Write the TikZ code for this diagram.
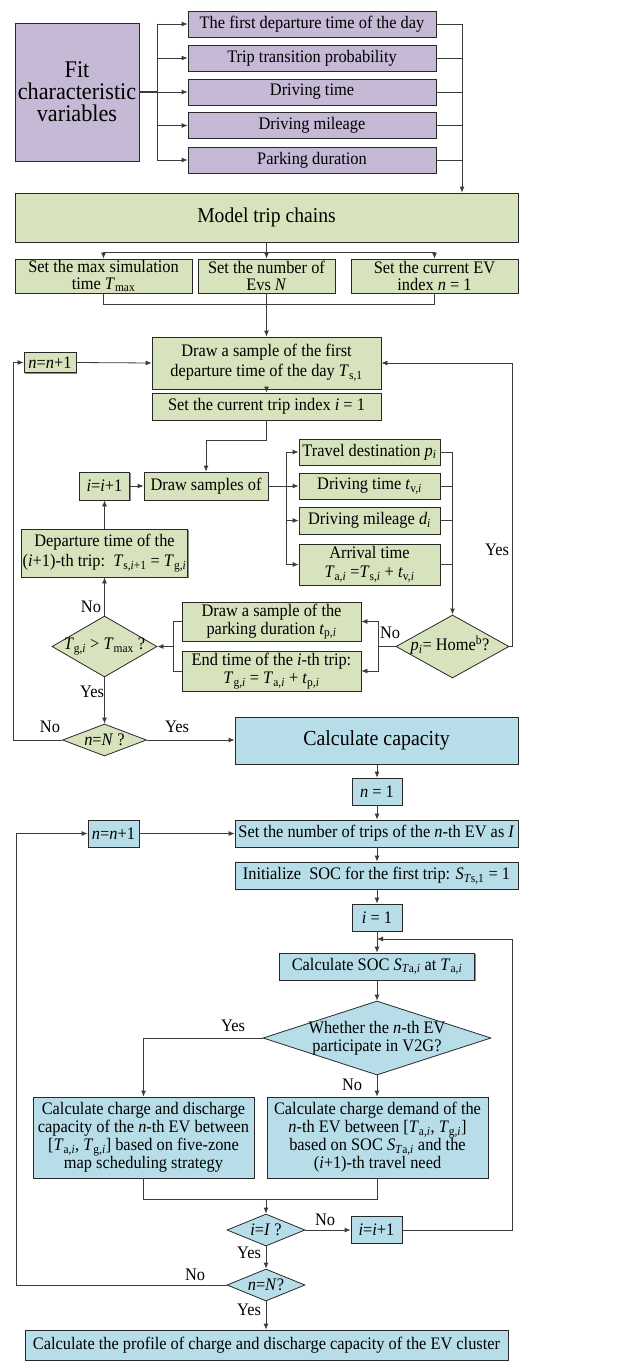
\documentclass[tikz,border=0pt]{standalone}
\usepackage{fontspec}
\setmainfont[FakeStretch=0.93]{Liberation Serif}
\usetikzlibrary{arrows.meta,shapes.geometric,shadows}
\definecolor{purp}{RGB}{197,185,214}
\definecolor{grn}{RGB}{215,227,188}
\definecolor{blu}{RGB}{183,222,232}
\definecolor{edge}{RGB}{40,40,40}
\definecolor{wire}{RGB}{60,60,60}
\newcommand\fs{\fontsize{17.6}{18}\selectfont}
\newcommand\V[2]{\textit{#1}\textsubscript{#2}}
\newcommand\I[1]{\textit{#1}}
\tikzset{
  x=1pt,y=-1pt,
  bx/.style={draw=edge,line width=0.8pt,rectangle,inner sep=0pt,align=center,font=\fs,
    drop shadow={shadow xshift=1pt,shadow yshift=-1pt,fill=black!45,opacity=1}},
  pbox/.style={bx,fill=purp},
  gbox/.style={bx,fill=grn},
  bbox/.style={bx,fill=blu},
  dia/.style={draw=edge,line width=0.8pt,diamond,inner sep=0pt},
  txt/.style={inner sep=0pt,align=center,font=\fs},
  wire/.style={draw=wire,line width=0.8pt},
  arr/.style={wire,-{Latex[length=6pt,width=5pt]}},
}
\begin{document}
\begin{tikzpicture}
\useasboundingbox (0,0) rectangle (617,1362);
% ---------- purple part
\node[pbox,minimum width=124,minimum height=138,font=\fontsize{23.9}{22}\selectfont] (fit) at (77,92) {Fit\\characteristic\\variables};
\node[pbox,minimum width=248,minimum height=26] (p1) at (312,24) {The first departure time of the day};
\node[pbox,minimum width=248,minimum height=26] (p2) at (312,58) {Trip transition probability};
\node[pbox,minimum width=248,minimum height=26] (p3) at (312,92) {Driving time};
\node[pbox,minimum width=248,minimum height=26] (p4) at (312,125.5) {Driving mileage};
\node[pbox,minimum width=248,minimum height=26] (p5) at (312,160) {Parking duration};
\coordinate (lbus) at (157,92);
\coordinate (rbus) at (462,24);
\draw[wire,line width=1.3pt] (fit.east) -- (lbus);
\draw[wire] (lbus |- p1.west) -- (lbus |- p5.west);
\foreach \p in {p1,p2,p3,p4,p5}{\draw[arr] (lbus |- \p.west) -- (\p.west);}
\foreach \p in {p2,p3,p4,p5}{\draw[wire] (\p.east) -- (rbus |- \p.east);}
% ---------- green part
\node[gbox,minimum width=503,minimum height=49,font=\fontsize{21.1}{22}\selectfont] (model) at (266.5,217.5) {Model trip chains};
\draw[arr] (p1.east) -- (rbus) -- (rbus |- model.north);
\node[gbox,minimum width=177,minimum height=34,font=\fontsize{17.6}{17}\selectfont] (ba) at (103.5,276) {Set the max simulation\\time \V{T}{max}};
\node[gbox,minimum width=137,minimum height=34,font=\fontsize{17.6}{17}\selectfont] (bb) at (266.5,276) {Set the number of\\Evs \I{N}};
\node[gbox,minimum width=167,minimum height=34,font=\fontsize{17.6}{17}\selectfont] (bc) at (434.5,276) {Set the current EV\\index \I{n} = 1};
\coordinate (sp) at (266.5,252);
\coordinate (mg) at (266.5,304);
\draw[wire] (model.south) -- (sp);
\draw[wire] (ba.north |- sp) -- (bc.north |- sp);
\draw[arr] (ba.north |- sp) -- (ba.north);
\draw[arr] (sp) -- (bb.north);
\draw[arr] (bc.north |- sp) -- (bc.north);
\draw[wire] (ba.south) -- (ba.south |- mg) -- (bc.south |- mg) -- (bc.south);
\draw[wire] (bb.south) -- (mg);
\node[gbox,minimum width=229,minimum height=52,font=\fontsize{17.6}{20}\selectfont] (d1) at (266.5,363) {Draw a sample of the first\\departure time of the day \V{T}{s,1}};
\draw[arr] (mg) -- (d1.north);
\node[gbox,minimum width=52,minimum height=20] (nn1) at (50,362.5) {\I{n}=\I{n}+1};
\draw[arr] (nn1.east) -- (d1.west);
\node[gbox,minimum width=229,minimum height=27] (t1) at (266.5,406.5) {Set the current trip index \I{i} = 1};
\draw[arr] (d1.south) -- (t1.north);
\node[gbox,minimum width=124,minimum height=28] (ds) at (206,486) {Draw samples of};
\node[gbox,minimum width=50,minimum height=28] (ii1) at (104.5,486) {\I{i}=\I{i}+1};
\draw[arr] (t1.south) -- ++(0,20) -| (ds.north);
\draw[arr] (ii1.east) -- (ds.west);
\node[gbox,minimum width=141,minimum height=26] (td) at (369.5,452) {Travel destination \V{p}{\I{i}}};
\node[gbox,minimum width=141,minimum height=26] (dt) at (369.5,486) {Driving time \V{t}{v,\I{i}}};
\node[gbox,minimum width=141,minimum height=27] (dm) at (369.5,520.5) {Driving mileage \V{d}{\I{i}}};
\node[gbox,minimum width=141,minimum height=41,font=\fontsize{17.6}{19}\selectfont] (at) at (369.5,564.5) {Arrival time\\\V{T}{a,\I{i}} =\V{T}{s,\I{i}} + \V{t}{v,\I{i}}};
\coordinate (mbus) at (286,486);
\draw[wire] (ds.east) -- (mbus);
\draw[wire] (mbus |- td.west) -- (mbus |- at.west);
\foreach \p in {td,dt,dm,at}{\draw[arr] (mbus |- \p.west) -- (\p.west);}
% home diamond
\node[dia,fill=grn,minimum width=113,minimum height=63] (home) at (452.5,646.5) {};
\node[txt] (homet) at (450,645) {\V{p}{\I{i}}= Home\textsuperscript{b}?};
\coordinate (hbus) at (452.5,452);
\foreach \p in {td,dt,dm}{\draw[wire] (\p.east) -- (hbus |- \p.east);}
\draw[wire] (at.east) -- (hbus |- at.east);
\draw[arr,line width=1.2pt] (hbus) -- (home.north);
% parking boxes
\node[gbox,minimum width=179,minimum height=39] (dp) at (271.5,621.5) {Draw a sample of the\\parking duration \V{t}{p,\I{i}}};
\node[gbox,minimum width=179,minimum height=40] (et) at (271.5,671) {End time of the \I{i}-th trip:\\\V{T}{g,\I{i}} = \V{T}{a,\I{i}} + \V{t}{p,\I{i}}};
\coordinate (hl) at (378,646.5);
\draw[wire] (home.west) -- (hl);
\draw[arr] (hl) |- (dp.east);
\draw[arr] (hl) |- (et.east);
\node[txt] (no1) at (390,633) {No};
% Tg diamond
\node[dia,fill=grn,minimum width=105,minimum height=61] (tg) at (104.5,646.5) {};
\node[txt] (tgt) at (104.5,646.5) {\V{T}{g,\I{i}} > \V{T}{max} ?};
\coordinate (tl) at (173,646.5);
\draw[wire] (dp.west) -| (tl);
\draw[wire] (et.west) -| (tl);
\draw[arr] (tl) -- (tg.east);
\node[gbox,minimum width=166,minimum height=48,font=\fontsize{17.6}{20}\selectfont] (dep) at (104.5,553) {Departure time of the\\(\I{i}+1)-th trip:\ \ \V{T}{s,\I{i}+1} = \V{T}{g,\I{i}}};
\draw[arr] (tg.north) -- (dep.north |- dep.south);
\draw[arr] (dep.north) -- (ii1.south);
\node[txt] (no2) at (91,607) {No};
% n=N diamond
\node[dia,fill=grn,minimum width=84,minimum height=32] (nN) at (104.5,740) {};
\node[txt] (nNt) at (104.5,740) {\I{n}=\I{N} ?};
\draw[arr] (tg.south) -- (nN.north);
\node[txt] (yes1) at (92,692) {Yes};
\coordinate (ll1) at (13,740);
\draw[arr] (nN.west) -- (ll1) |- (nn1.west);
\node[txt] (no3) at (50,727) {No};
\node[txt] (yes2) at (177,727) {Yes};
\coordinate (rl1) at (512,646.5);
\draw[arr] (home.east) -- (rl1) |- (d1.east);
\node[txt] (yes3) at (497,550) {Yes};
% ---------- blue part
\node[bbox,minimum width=283,minimum height=47,font=\fontsize{21.4}{22}\selectfont] (cap) at (376.5,740.5) {Calculate capacity};
\draw[arr] (nN.east) -- (cap.west |- nN.east);
\node[bbox,minimum width=50,minimum height=27] (n1) at (377,791.5) {\I{n} = 1};
\draw[arr] (cap.south -| n1.north) -- (n1.north);
\node[bbox,minimum width=283,minimum height=27] (st) at (376.5,833.5) {Set the number of trips of the \I{n}-th EV as \I{I}};
\draw[arr] (n1.south) -- (n1.south |- st.north);
\node[bbox,minimum width=51,minimum height=27] (nn2) at (113.5,833.5) {\I{n}=\I{n}+1};
\draw[arr] (nn2.east) -- (st.west);
\node[bbox,minimum width=283,minimum height=27] (init) at (376.5,875.5) {Initialize\ \ SOC for the first trip: \V{S}{\I{T}s,1} = 1};
\draw[arr] (n1.south |- st.south) -- (n1.south |- init.north);
\node[bbox,minimum width=50,minimum height=27] (i1) at (377,917.5) {\I{i} = 1};
\draw[arr] (i1.north |- init.south) -- (i1.north);
\node[bbox,minimum width=195,minimum height=27] (soc) at (377,966.5) {Calculate SOC \V{S}{\I{T}a,\I{i}} at \V{T}{a,\I{i}}};
\draw[arr] (i1.south) -- (soc.north);
\node[dia,fill=blu,minimum width=228,minimum height=74] (v2g) at (377,1038) {};
\node[txt] (v2gt) at (377,1038) {Whether the \I{n}-th EV\\participate in V2G?};
\draw[arr] (soc.south) -- (v2g.north);
\node[bbox,minimum width=221,minimum height=81] (lb) at (143.5,1137.5) {Calculate charge and discharge\\capacity of the \I{n}-th EV between\\{[}\V{T}{a,\I{i}}, \V{T}{g,\I{i}}] based on five-zone\\map scheduling strategy};
\node[bbox,minimum width=221,minimum height=81] (rb) at (377.5,1137.5) {Calculate charge demand of the\\\I{n}-th EV between [\V{T}{a,\I{i}}, \V{T}{g,\I{i}}]\\based on SOC \V{S}{\I{T}a,\I{i}} and the\\(\I{i}+1)-th travel need};
\draw[arr] (v2g.west) -| (lb.north);
\draw[arr] (v2g.south) -- (v2g.south |- rb.north);
\node[txt] (yes4) at (233,1026) {Yes};
\node[txt] (no4) at (352,1085) {No};
\coordinate (mg2) at (266,1199);
\draw[wire] (lb.south) -- (lb.south |- mg2) -- (v2g.south |- mg2) -- (v2g.south |- rb.south);
\node[dia,fill=blu,minimum width=78,minimum height=32] (iI) at (266,1230) {};
\node[txt] (iIt) at (266,1230) {\I{i}=\I{I} ?};
\draw[arr] (mg2) -- (iI.north);
\node[bbox,minimum width=51,minimum height=27] (ii2) at (376.5,1229.5) {\I{i}=\I{i}+1};
\draw[arr] (iI.east) -- (ii2.west |- iI.east);
\node[txt] (no5) at (325,1220) {No};
\coordinate (rl2) at (512,1230);
\coordinate (mg3) at (377,939);
\draw[arr] (ii2.east |- rl2) -- (rl2) |- (mg3);
\node[dia,fill=blu,minimum width=78,minimum height=32] (nN2) at (266,1285) {};
\node[txt] (nN2t) at (266,1285) {\I{n}=\I{N}?};
\draw[arr] (iI.south) -- (nN2.north);
\node[txt] (yes5) at (249,1253) {Yes};
\coordinate (ll2) at (16,1285);
\draw[arr] (nN2.west) -- (ll2) |- (nn2.west);
\node[txt] (no6) at (195,1275) {No};
\node[bbox,minimum width=483,minimum height=30] (fin) at (266.5,1345) {Calculate the profile of charge and discharge capacity of the EV cluster};
\draw[arr] (nN2.south) -- (fin.north -| nN2.south);
\node[txt] (yes6) at (249,1310) {Yes};
\end{tikzpicture}
\end{document}
